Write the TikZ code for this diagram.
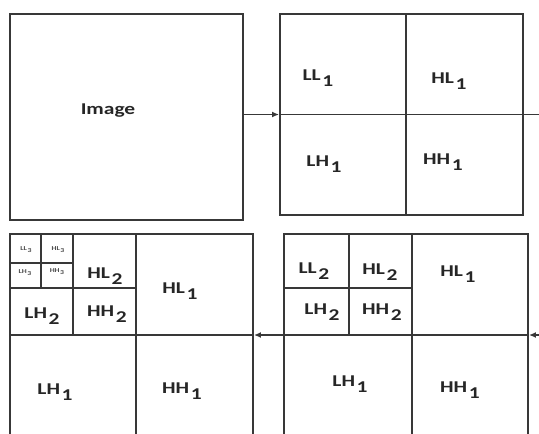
\documentclass[tikz,border=0pt]{standalone}
\usepackage{fontspec}
\usetikzlibrary{arrows.meta}
\newfontfamily\lblfont[FakeStretch=1.3]{Carlito}
\newcommand\bnd[2]{#1\kern.1em\raisebox{-.35em}{#2}}
\definecolor{linegray}{HTML}{383838}
\tikzset{
	box/.style={draw=linegray, line width=1.9pt, inner sep=0pt},
	band/.style={font=\lblfont\bfseries\fontsize{16.5}{18}\selectfont, text=black!85, inner sep=1pt},
	bandsmall/.style={font=\lblfont\bfseries\fontsize{6}{7}\selectfont, text=black!70, inner sep=0pt},
	split/.style={draw=linegray, line width=1.9pt},
	flow/.style={-{Latex[length=7pt,width=6pt]}, draw=linegray, line width=1.9pt}
}
\begin{document}
\begin{tikzpicture}[x=1pt, y=-1pt]
	\useasboundingbox (0,0) rectangle (539,434);
	\fill[white] (0,0) rectangle (539,434);
	\clip (0,0) rectangle (539,434);

	\node[box, minimum width=233pt, minimum height=206pt] (img) at (126.5,117) {};
	\node[box, minimum width=243pt, minimum height=201pt] (tr) at (401.5,114.5) {};
	\node[box, minimum width=244pt, minimum height=202pt] (br) at (406,335) {};
	\node[box, minimum width=243pt, minimum height=202pt] (bl) at (131.5,335) {};
	\coordinate (edgeA) at (539,114.5);
	\coordinate (edgeB) at (539,335);

	\node[band] (imgtxt) at (108,111) {Image};

	\draw[split] (406,14) -- (406,215);
	\draw[split] (tr.west) -- (edgeA);

	\draw[split] (412,234) -- (412,436);
	\draw[split] (br.west) -- (br.east);
	\draw[split] (284,288) -- (412,288);
	\draw[split] (349,234) -- (349,335);

	\draw[split] (136,234) -- (136,436);
	\draw[split] (bl.west) -- (bl.east);
	\draw[split] (10,288) -- (136,288);
	\draw[split] (73,234) -- (73,335);
	\draw[split] (10,263) -- (73,263);
	\draw[split] (41,234) -- (41,288);

	\foreach \n/\x/\y/\t in {trll/318/78/\bnd{LL}{1}, trhl/449/81/\bnd{HL}{1},
		trlh/324/164/\bnd{LH}{1}, trhh/443/162/\bnd{HH}{1},
		brll/314/271/\bnd{LL}{2}, brhl/380/272/\bnd{HL}{2}, brhlone/458/274/\bnd{HL}{1},
		brlh/322/312/\bnd{LH}{2}, brhh/382/312/\bnd{HH}{2},
		brlhone/350/384/\bnd{LH}{1}, brhhone/460/390/\bnd{HH}{1},
		blhl/105/276/\bnd{HL}{2}, blhlone/180/291/\bnd{HL}{1},
		bllh/42/316/\bnd{LH}{2}, blhh/107/314/\bnd{HH}{2},
		bllhone/55/392/\bnd{LH}{1}, blhhone/182/391/\bnd{HH}{1}}
		\node[band] (\n) at (\x,\y) {\t};

	\foreach \n/\x/\y/\t in {blll/26/250/\bnd{LL}{3}, blhlthree/58/250/\bnd{HL}{3},
		bllhthree/25/273/\bnd{LH}{3}, blhhthree/57/272/\bnd{HH}{3}}
		\node[bandsmall] (\n) at (\x,\y) {\t};

	\draw[flow] (img.east |- tr.west) -- (tr.west);
	\draw[flow] (edgeB) -- (br.east);
	\draw[flow] (br.west) -- (bl.east);
\end{tikzpicture}
\end{document}
